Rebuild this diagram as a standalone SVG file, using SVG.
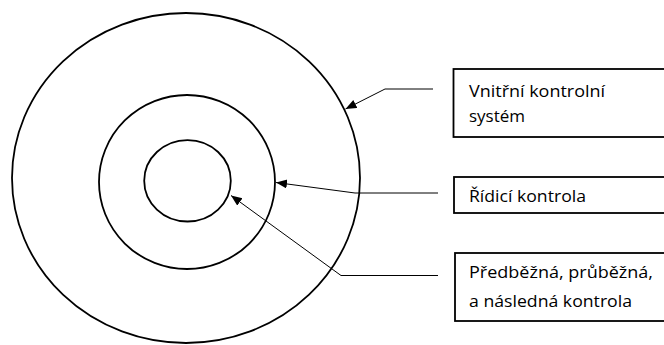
<svg xmlns="http://www.w3.org/2000/svg" width="664" height="345" viewBox="0 0 664 345">
  <style>
    .ring { fill: none; stroke: #000; stroke-width: 1.8; }
    .box { fill: #fff; stroke: #000; stroke-width: 1.8; }
    .lead { fill: none; stroke: #000; stroke-width: 1; }
    .lbl { font-family: "Open Sans", "Liberation Sans", sans-serif; font-size: 17px; fill: #000; }
  </style>
  <defs>
    <marker id="tip" markerUnits="userSpaceOnUse" markerWidth="12" markerHeight="10" refX="11" refY="4.5" orient="auto">
      <path d="M0,0 L11,4.5 L0,9 Z" fill="#000"/>
    </marker>
  </defs>
  <rect width="664" height="345" fill="#fff"/>

  <!-- concentric levels of control -->
  <g id="rings">
    <ellipse id="outer-ring" class="ring" cx="186" cy="178" rx="174" ry="165"/>
    <ellipse id="middle-ring" class="ring" cx="187" cy="182" rx="88" ry="87"/>
    <ellipse id="inner-ring" class="ring" cx="187.5" cy="180.8" rx="43.3" ry="40.7"/>
  </g>

  <!-- leader lines from labels to rings -->
  <g id="connectors">
    <path class="lead" d="M433,89 H385 L345.5,109" marker-end="url(#tip)"/>
    <path class="lead" d="M438,193 H355 L276,182.5" marker-end="url(#tip)"/>
    <path class="lead" d="M438,275.5 H341 L231,195.5" marker-end="url(#tip)"/>
  </g>

  <g id="label-vnitrni">
    <rect class="box" x="453.5" y="69" width="220" height="68"/>
    <text class="lbl" x="469" y="97" textLength="136" lengthAdjust="spacingAndGlyphs">Vnitřní kontrolní</text>
    <text class="lbl" x="469" y="122">systém</text>
  </g>

  <g id="label-ridici">
    <rect class="box" x="454" y="177" width="220" height="36"/>
    <text class="lbl" x="469" y="202" textLength="117" lengthAdjust="spacingAndGlyphs">Řídicí kontrola</text>
  </g>

  <g id="label-predbezna">
    <rect class="box" x="455" y="253" width="220" height="68"/>
    <text class="lbl" x="469" y="278" textLength="184" lengthAdjust="spacingAndGlyphs">Předběžná, průběžná,</text>
    <text class="lbl" x="469" y="306.5" textLength="163" lengthAdjust="spacingAndGlyphs">a následná kontrola</text>
  </g>
</svg>
